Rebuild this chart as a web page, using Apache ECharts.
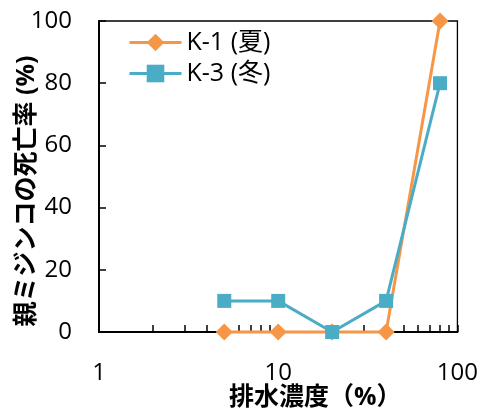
<!DOCTYPE html>
<html><head><meta charset="utf-8">
<script src="https://cdn.jsdelivr.net/npm/echarts@6/dist/echarts.min.js"></script>
<style>html,body{margin:0;padding:0;background:#fff}#c{width:481px;height:411px}</style>
</head><body><div id="c"></div>
<script>
const concentrations = [5, 10, 20, 40, 80];
const k1Summer = [0, 0, 0, 0, 100];
const k3Winter = [10, 10, 0, 10, 80];
const seriesNames = ['K-1 (夏)', 'K-3 (冬)'];
const xTickValues = [1,2,3,4,5,6,7,8,9,10,20,30,40,50,60,70,80,90,100];
const xLabelValues = [1, 10, 100];
const xTitle = '排水濃度（%）';
const yTitle = '親ミジンコの死亡率 (%)';

const font = '"Open Sans", "Noto Sans CJK JP", sans-serif';
const chart = echarts.init(document.getElementById('c'), null, {renderer: 'canvas'});
chart.setOption({
  animation: false,
  backgroundColor: '#fff',
  grid: {left: 99, right: 18, top: 21, bottom: 79, show: true, borderColor: '#000', borderWidth: 1.3, backgroundColor: 'transparent'},
  legend: {
    left: 123, top: 25, orient: 'vertical', itemGap: 6, itemWidth: 52, itemHeight: 22,
    textStyle: {fontFamily: font, fontSize: 25, color: '#000'},
    lineStyle: {width: 3},
    data: seriesNames.map(n => ({name: n}))
  },
  xAxis: {
    type: 'log', logBase: 10, min: 1, max: 100,
    axisLine: {onZero: false, lineStyle: {color: '#000', width: 2}},
    axisTick: {inside: true, length: 7, lineStyle: {color: '#000', width: 1.5}, customValues: xTickValues},
    axisLabel: {margin: 29, fontFamily: font, fontSize: 24, color: '#000', customValues: xLabelValues},
    splitLine: {show: false}, minorTick: {show: false}
  },
  yAxis: {
    type: 'value', min: 0, max: 100, interval: 20,
    axisLine: {show: true, lineStyle: {color: '#000', width: 2}},
    axisTick: {show: true, inside: true, length: 7, lineStyle: {color: '#000', width: 1.5}},
    axisLabel: {margin: 27, fontFamily: font, fontSize: 24, color: '#000'},
    splitLine: {show: false}
  },
  graphic: [
    {type: 'text', left: 229, top: 385, style: {text: xTitle, fontFamily: font, fontSize: 25, fontWeight: 'bold', fill: '#000'}},
    {type: 'text', x: 27, y: 191, rotation: Math.PI/2, style: {text: yTitle, fontFamily: font, fontSize: 25, fontWeight: 'bold', fill: '#000', align: 'center', verticalAlign: 'middle'}}
  ],
  series: [
    {name: seriesNames[0], type: 'line', data: concentrations.map((x,i)=>[x,k1Summer[i]]),
     symbol: 'diamond', symbolSize: 17, lineStyle: {color: '#F79646', width: 3}, itemStyle: {color: '#F79646'}, clip: false, z: 2},
    {name: seriesNames[1], type: 'line', data: concentrations.map((x,i)=>[x,k3Winter[i]]),
     symbol: 'rect', symbolSize: 14, lineStyle: {color: '#4BACC6', width: 3}, itemStyle: {color: '#4BACC6'}, clip: false, z: 3}
  ]
});
</script></body></html>
